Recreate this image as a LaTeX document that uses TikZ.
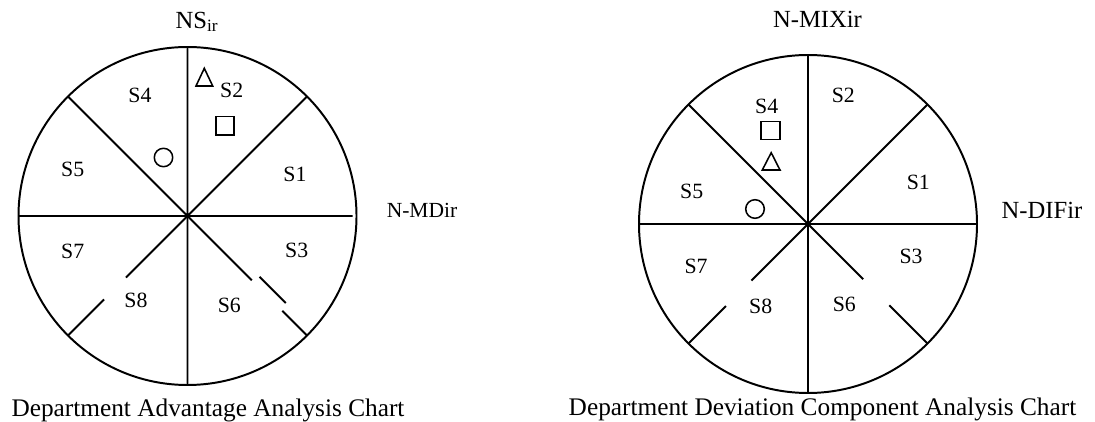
\documentclass[tikz,border=0pt]{standalone}
\usepackage{fontspec}
\setmainfont{Liberation Serif}
\usetikzlibrary{calc}
\tikzset{
  sector/.style={font=\fontsize{15.5}{18}\selectfont, inner sep=0pt},
  axislabel/.style={font=\fontsize{17.5}{20}\selectfont, inner sep=0pt},
  chartcaption/.style={font=\fontsize{18}{21}\selectfont, inner sep=0pt, anchor=base},
  marker/.style={line width=1.1pt},
}

\begin{document}
\begin{tikzpicture}[x=0.025cm,y=0.025cm,line width=1.4pt]
  \useasboundingbox (0,0) rectangle (1095,421);
  % centres of the two charts
  \coordinate (O) at (187.5,205);
  \coordinate (P) at (808,197);

  % left chart
  \draw (O) circle (169);
  \draw (O) -- ++(90:169) (O) -- ++(270:169) (O) -- ++(180:169) (O) -- ++(0:165)
        (O) -- ++(45:169) (O) -- ++(135:169);
  \draw (O) -- ($(O)+(225:87)$) ($(O)+(225:118)$) -- ($(O)+(225:169)$);
  \draw (O) -- ($(O)+(315:91)$)
        ($(O)+(315:94)+(45:8)$) -- ($(O)+(315:131)+(45:8)$)
        ($(O)+(315:134)$) -- ($(O)+(315:169)$);
  \node[sector] (l1) at (295,247) {S1};
  \node[sector] (l2) at (231.7,331) {S2};
  \node[sector] (l3) at (296.7,170.3) {S3};
  \node[sector] (l4) at (140,326) {S4};
  \node[sector] (l5) at (72.7,252) {S5};
  \node[sector] (l6) at (229.3,116) {S6};
  \node[sector] (l7) at (72.7,169.3) {S7};
  \node[sector] (l8) at (136,121) {S8};
  \draw[marker] (196,335) -- (212.7,335) -- (204.3,352.7) -- cycle;
  \draw[marker] (216,286) rectangle (234,304.3);
  \draw[marker] (163.5,263.5) circle (9.2);
  \node[axislabel, anchor=base] (ns) at (197,392.7) {NS\textsubscript{ir}};
  \node[axislabel, font=\fontsize{15.3}{18}\selectfont] (md) at (422,211) {N-MDir};
  \node[chartcaption] (cl) at (208,4.5) {Department Advantage Analysis Chart};

  % right chart
  \draw (P) circle (169);
  \draw (P) -- ++(90:169) (P) -- ++(270:169) (P) -- ++(180:169) (P) -- ++(0:169)
        (P) -- ++(45:169) (P) -- ++(135:169);
  \draw (P) -- ($(P)+(225:80)$) ($(P)+(225:116)$) -- ($(P)+(225:169)$);
  \draw (P) -- ($(P)+(315:78)$) ($(P)+(315:115)$) -- ($(P)+(315:169)$);
  \node[sector] (r1) at (918.3,238.3) {S1};
  \node[sector] (r2) at (843.3,326) {S2};
  \node[sector] (r3) at (911,165) {S3};
  \node[sector] (r4) at (766.7,315) {S4};
  \node[sector] (r5) at (691.7,230) {S5};
  \node[sector] (r6) at (844.3,117) {S6};
  \node[sector] (r7) at (696,154.3) {S7};
  \node[sector] (r8) at (760.7,115) {S8};
  \draw[marker] (761,281.7) rectangle (780,299.3);
  \draw[marker] (762.3,251) -- (780,251) -- (771.2,268.3) -- cycle;
  \draw[marker] (755,212) circle (9.3);
  \node[axislabel, anchor=base] (mix) at (817.5,393.7) {N-MIXir};
  \node[axislabel] (dif) at (1042,211) {N-DIFir};
  \node[chartcaption] (cr) at (822.5,6) {Department Deviation Component Analysis Chart};
\end{tikzpicture}
\end{document}
